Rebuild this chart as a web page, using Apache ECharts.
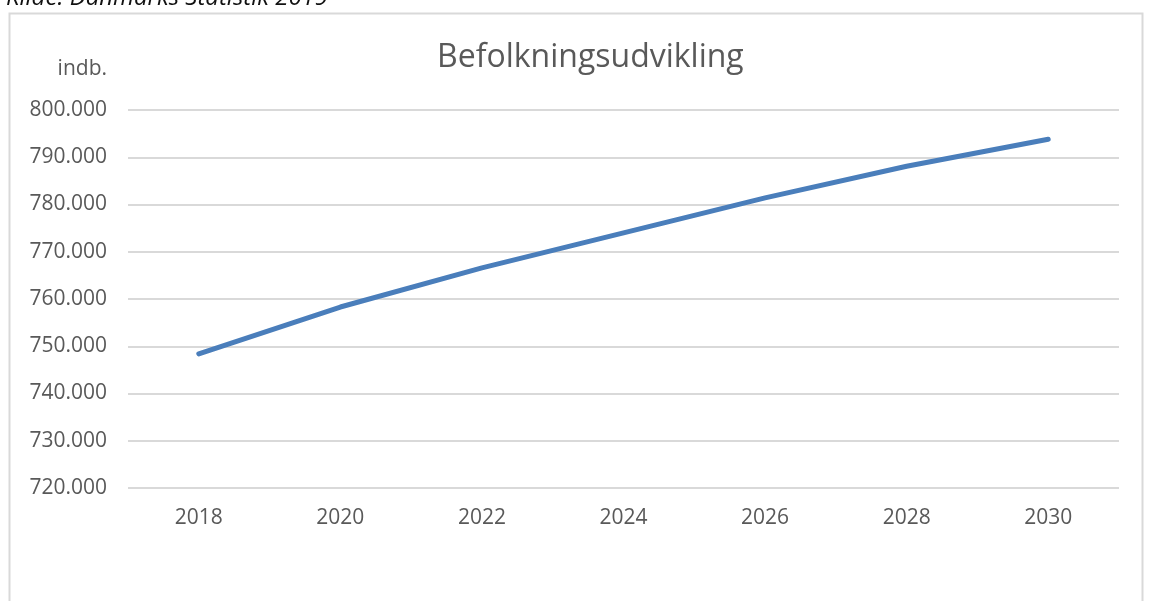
<!DOCTYPE html>
<html>
<head>
<meta charset="utf-8">
<script src="https://cdn.jsdelivr.net/npm/echarts@6/dist/echarts.min.js"></script>
<style>
  html, body { margin: 0; padding: 0; background: #fff; }
  #chart { width: 1155px; height: 601px; }
</style>
</head>
<body>
<div id="chart"></div>
<script>
const years = ['2018', '2020', '2022', '2024', '2026', '2028', '2030'];
const population = [748400, 758300, 766600, 774000, 781400, 788100, 793800];
const yMin = 720000;
const yMax = 800000;
const yStep = 10000;

const textColor = '#595959';
const fontFamily = '"Open Sans", sans-serif';

function fmt(v) {
  return String(v).replace(/\B(?=(\d{3})+(?!\d))/g, '.');
}

const chart = echarts.init(document.getElementById('chart'));
chart.setOption({
  animation: false,
  title: {
    text: 'Befolkningsudvikling',
    left: 432,
    top: 37,
    textStyle: { color: textColor, fontFamily: fontFamily, fontSize: 32, fontWeight: 'normal' }
  },
  graphic: [
    {
      type: 'rect',
      shape: { x: 9.5, y: 13.5, width: 1133, height: 620 },
      style: { fill: 'none', stroke: '#d9d9d9', lineWidth: 2 },
      silent: true
    },
    {
      type: 'text',
      x: 6,
      y: -14,
      style: {
        text: 'Kilde: Danmarks Statistik 2019',
        fill: '#111',
        fontStyle: 'italic',
        fontSize: 24,
        fontFamily: fontFamily,
        verticalAlign: 'top'
      }
    },
    {
      type: 'text',
      right: 1155 - 107,
      top: 59,
      style: {
        text: 'indb.',
        fill: textColor,
        fontSize: 21,
        fontFamily: fontFamily
      }
    }
  ],
  grid: { left: 128, right: 36, top: 110, bottom: 113 },
  xAxis: {
    type: 'category',
    data: years,
    boundaryGap: true,
    axisLine: { show: false },
    axisTick: { show: false },
    axisLabel: { color: textColor, fontFamily: fontFamily, fontSize: 21, margin: 20 }
  },
  yAxis: {
    type: 'value',
    min: yMin,
    max: yMax,
    interval: yStep,
    axisLine: { show: false },
    axisTick: { show: false },
    axisLabel: { color: textColor, fontFamily: fontFamily, fontSize: 21, margin: 21, formatter: fmt },
    splitLine: { lineStyle: { color: '#d9d9d9', width: 2 } }
  },
  series: [
    {
      type: 'line',
      data: population,
      showSymbol: false,
      lineStyle: { color: '#4a7ebb', width: 5, cap: 'round', join: 'round' }
    }
  ]
});
</script>
</body>
</html>
